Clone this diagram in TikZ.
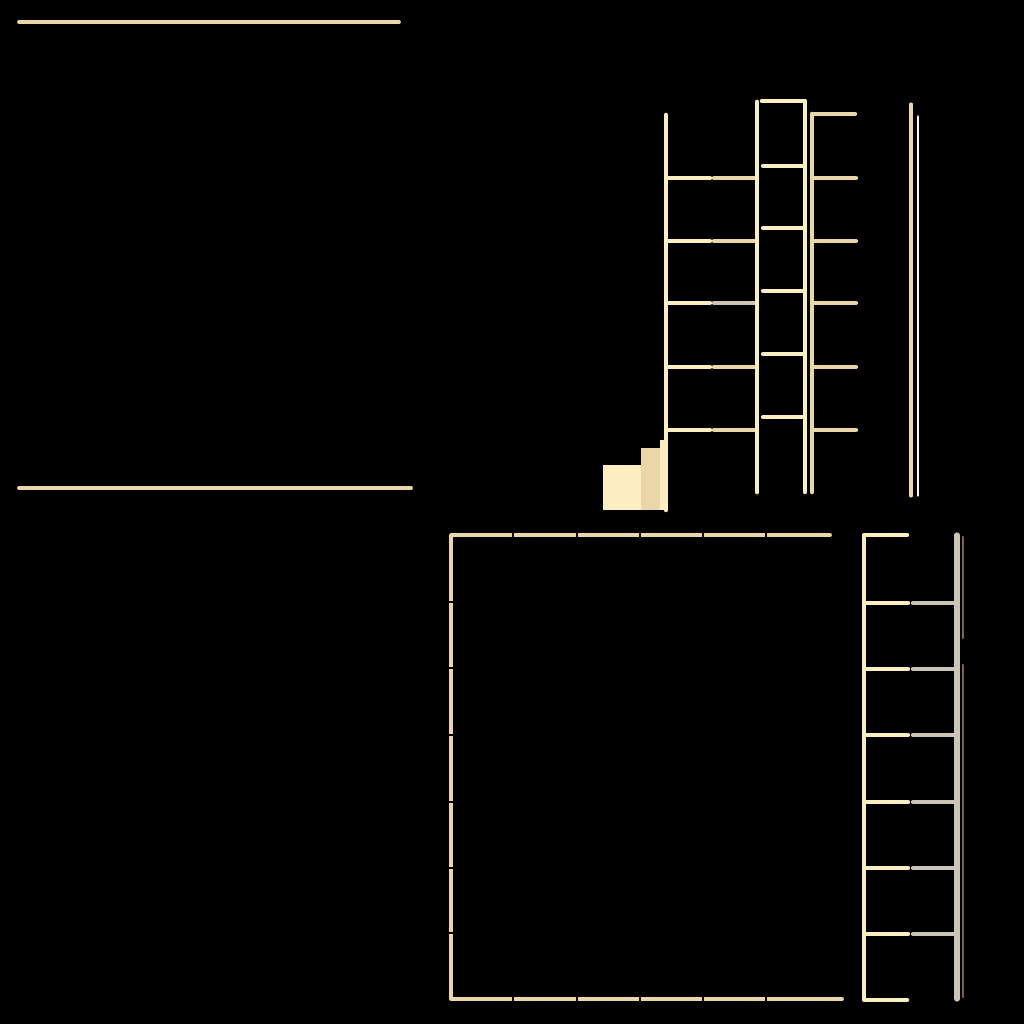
\documentclass[tikz,border=0pt]{standalone}
\usepackage{xcolor}
\usepackage{tikz}
\definecolor{woodlight}{RGB}{251,238,192}
\definecolor{woodtan}{RGB}{234,214,168}
\definecolor{woodash}{RGB}{204,196,182}
\definecolor{woodedge}{RGB}{120,100,70}
\begin{document}
\begin{tikzpicture}[line cap=round,line join=round,x=1.0cm,y=1.0cm]
			\fill[black] (0,0) rectangle (10.24,10.24);
			% loose rails on the left
			\draw [line width=1.1pt,color=woodtan] (0.19,10.02)-- (3.99,10.02);
			\draw [line width=1.1pt,color=woodtan] (0.19,5.36)-- (4.11,5.36);
			% upper ladder
			\draw [line width=1.3pt,color=woodlight] (6.66,9.09)-- (6.66,5.14);
			\draw [line width=1.2pt,color=woodlight] (6.68,8.46)-- (7.10,8.46);
			\draw [line width=1.2pt,color=woodlight] (6.68,7.83)-- (7.10,7.83);
			\draw [line width=1.2pt,color=woodlight] (6.68,7.21)-- (7.10,7.21);
			\draw [line width=1.2pt,color=woodlight] (6.68,6.57)-- (7.10,6.57);
			\draw [line width=1.2pt,color=woodlight] (6.68,5.94)-- (7.10,5.94);
			\draw [line width=1.2pt,color=woodtan] (7.14,8.46)-- (7.55,8.46);
			\draw [line width=1.2pt,color=woodtan] (7.14,7.83)-- (7.55,7.83);
			\draw [line width=1.2pt,color=woodash] (7.14,7.21)-- (7.55,7.21);
			\draw [line width=1.2pt,color=woodtan] (7.14,6.57)-- (7.55,6.57);
			\draw [line width=1.2pt,color=woodtan] (7.14,5.94)-- (7.55,5.94);
			\draw [line width=1.4pt,color=woodlight] (7.57,9.22)-- (7.57,5.32);
			\draw [line width=1.3pt,color=woodlight] (7.62,9.23)-- (8.05,9.23)-- (8.05,5.32);
			\draw [line width=1.2pt,color=woodlight] (7.63,8.58)-- (8.03,8.58);
			\draw [line width=1.2pt,color=woodlight] (7.63,7.96)-- (8.03,7.96);
			\draw [line width=1.2pt,color=woodlight] (7.63,7.33)-- (8.03,7.33);
			\draw [line width=1.2pt,color=woodlight] (7.63,6.70)-- (8.03,6.70);
			\draw [line width=1.2pt,color=woodlight] (7.63,6.07)-- (8.03,6.07);
			\draw [line width=1.3pt,color=woodtan] (8.12,9.10)-- (8.12,5.32);
			\draw [line width=1.2pt,color=woodtan] (8.14,9.10)-- (8.55,9.10);
			\draw [line width=1.2pt,color=woodtan] (8.14,8.46)-- (8.56,8.46);
			\draw [line width=1.2pt,color=woodtan] (8.14,7.83)-- (8.56,7.83);
			\draw [line width=1.2pt,color=woodtan] (8.14,7.21)-- (8.56,7.21);
			\draw [line width=1.2pt,color=woodtan] (8.14,6.57)-- (8.56,6.57);
			\draw [line width=1.2pt,color=woodtan] (8.14,5.94)-- (8.56,5.94);
			\draw [line width=0.9pt,color=woodtan] (9.11,9.20)-- (9.11,5.28);
			\draw [line width=0.3pt,color=white!80!woodtan] (9.18,9.08)-- (9.18,5.28);
			% cut off block under the ladder
			\fill [color=woodlight] (6.03,5.59) rectangle (6.45,5.14);
			\fill [color=woodtan] (6.41,5.76) rectangle (6.60,5.14);
			\fill [color=woodlight] (6.60,5.84) rectangle (6.64,5.14);
			% lower frame
			\draw [line width=1.1pt,color=woodtan] (8.30,4.89)-- (4.51,4.89)-- (4.51,0.25)-- (8.42,0.25);
			\draw [line width=0.4pt,color=black] (5.13,4.92)-- (5.13,4.86);
			\draw [line width=0.4pt,color=black] (5.77,4.92)-- (5.77,4.86);
			\draw [line width=0.4pt,color=black] (6.40,4.92)-- (6.40,4.86);
			\draw [line width=0.4pt,color=black] (7.03,4.92)-- (7.03,4.86);
			\draw [line width=0.4pt,color=black] (7.66,4.92)-- (7.66,4.86);
			\draw [line width=0.4pt,color=black] (5.13,0.28)-- (5.13,0.22);
			\draw [line width=0.4pt,color=black] (5.77,0.28)-- (5.77,0.22);
			\draw [line width=0.4pt,color=black] (6.40,0.28)-- (6.40,0.22);
			\draw [line width=0.4pt,color=black] (7.03,0.28)-- (7.03,0.22);
			\draw [line width=0.4pt,color=black] (7.66,0.28)-- (7.66,0.22);
			\draw [line width=0.4pt,color=black] (4.48,4.22)-- (4.54,4.22);
			\draw [line width=0.4pt,color=black] (4.48,3.56)-- (4.54,3.56);
			\draw [line width=0.4pt,color=black] (4.48,2.89)-- (4.54,2.89);
			\draw [line width=0.4pt,color=black] (4.48,2.22)-- (4.54,2.22);
			\draw [line width=0.4pt,color=black] (4.48,1.56)-- (4.54,1.56);
			\draw [line width=0.4pt,color=black] (4.48,0.91)-- (4.54,0.91);
			% lower ladder
			\draw [line width=1.3pt,color=woodlight] (9.07,4.89)-- (8.64,4.89)-- (8.64,0.24)-- (9.07,0.24);
			\draw [line width=1.2pt,color=woodlight] (8.66,4.21)-- (9.08,4.21);
			\draw [line width=1.2pt,color=woodlight] (8.66,3.55)-- (9.08,3.55);
			\draw [line width=1.2pt,color=woodlight] (8.66,2.89)-- (9.08,2.89);
			\draw [line width=1.2pt,color=woodlight] (8.66,2.22)-- (9.08,2.22);
			\draw [line width=1.2pt,color=woodlight] (8.66,1.56)-- (9.08,1.56);
			\draw [line width=1.2pt,color=woodlight] (8.66,0.90)-- (9.08,0.90);
			\draw [line width=1.2pt,color=woodash] (9.13,4.21)-- (9.55,4.21);
			\draw [line width=1.2pt,color=woodash] (9.13,3.55)-- (9.55,3.55);
			\draw [line width=1.2pt,color=woodash] (9.13,2.89)-- (9.55,2.89);
			\draw [line width=1.2pt,color=woodash] (9.13,2.22)-- (9.55,2.22);
			\draw [line width=1.2pt,color=woodash] (9.13,1.56)-- (9.55,1.56);
			\draw [line width=1.2pt,color=woodash] (9.13,0.90)-- (9.55,0.90);
			\draw [line width=1.5pt,color=woodash] (9.57,4.89)-- (9.57,0.25);
			\draw [line width=0.6pt,color=woodedge] (9.63,4.87)-- (9.63,3.86);
			\draw [line width=0.6pt,color=woodedge] (9.63,3.59)-- (9.63,0.27);
\end{tikzpicture}
\end{document}
